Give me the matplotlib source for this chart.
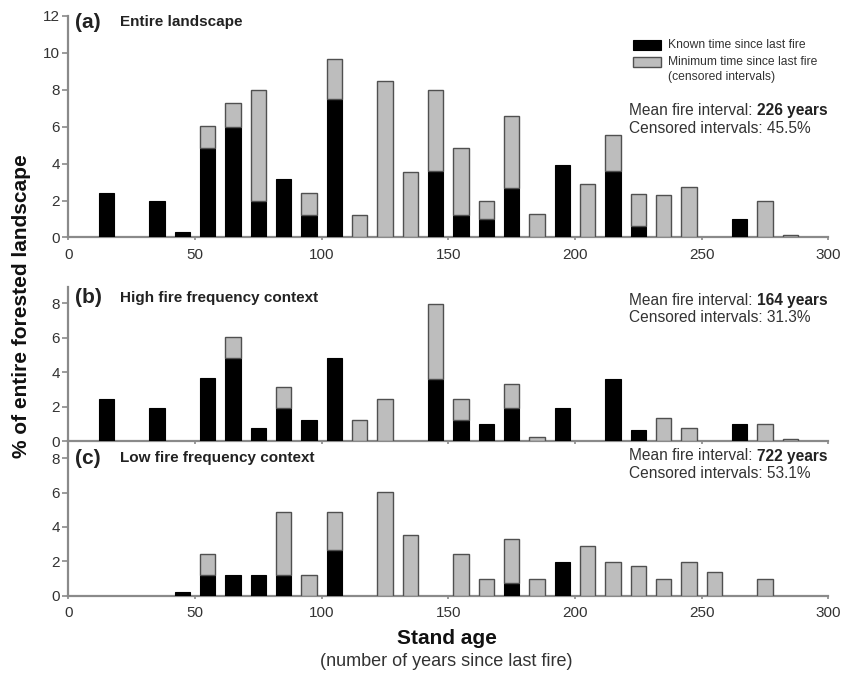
import matplotlib
matplotlib.use("Agg")
import matplotlib.pyplot as plt
from matplotlib.patches import Rectangle
import numpy as np

plt.rcParams['font.family'] = ['Liberation Sans', 'DejaVu Sans']

# ---- data ----
ages = [5, 15, 25, 35, 45, 55, 65, 75, 85, 95, 105, 115, 125, 135, 145,
        155, 165, 175, 185, 195, 205, 215, 225, 235, 245, 255, 265, 275, 285, 295]

known_a = [0, 2.42, 0, 1.95, 0.29, 4.83, 6.0, 1.95, 3.16, 1.21, 7.5, 0, 0, 0, 3.62,
           1.21, 0.98, 2.69, 0, 3.9, 0, 3.62, 0.63, 0, 0, 0, 0.99, 0, 0, 0]
censored_a = [0, 0, 0, 0, 0, 1.21, 1.25, 6.05, 0, 1.21, 2.17, 1.23, 8.48, 3.56, 4.38,
              3.65, 0.99, 3.89, 1.25, 0, 2.91, 1.93, 1.74, 2.31, 2.73, 0, 0, 1.95, 0.16, 0]

known_b = [0, 2.41, 0, 1.92, 0, 3.63, 4.8, 0.76, 1.92, 1.22, 4.83, 0, 0, 0, 3.59,
           1.2, 0.97, 1.92, 0, 1.92, 0, 3.59, 0.62, 0, 0, 0, 0.97, 0, 0, 0]
censored_b = [0, 0, 0, 0, 0, 0, 1.24, 0, 1.21, 0, 0, 1.22, 2.41, 0, 4.37,
              1.21, 0, 1.36, 0.23, 0, 0, 0, 0, 1.34, 0.76, 0, 0, 0.97, 0.12, 0]

known_c = [0, 0, 0, 0, 0.23, 1.2, 1.2, 1.2, 1.2, 0, 2.66, 0, 0, 0, 0,
           0, 0, 0.76, 0, 1.94, 0, 0, 0, 0, 0, 0, 0, 0, 0, 0]
censored_c = [0, 0, 0, 0, 0, 1.23, 0, 0, 3.65, 1.22, 2.19, 0, 6.06, 3.55, 0,
              2.43, 0.97, 2.54, 0.97, 0, 2.89, 1.94, 1.73, 0.97, 1.94, 1.36, 0, 0.97, 0, 0]

panel_letters = ["(a)", "(b)", "(c)"]
panel_titles = ["Entire landscape", "High fire frequency context", "Low fire frequency context"]
mean_intervals = ["226 years", "164 years", "722 years"]
censored_pct = ["45.5%", "31.3%", "53.1%"]
x_ticks = [0, 50, 100, 150, 200, 250, 300]
legend_labels = ["Known time since last fire", "Minimum time since last fire", "(censored intervals)"]

# ---- figure ----
W, H = 843, 676
fig = plt.figure(figsize=(W / 100, H / 100), dpi=100)

def fx(px):
    return px / W

def fy(py):
    return 1 - py / H

BLACK = "#000000"
GRAY = "#bdbdbd"
EDGE_G = "#505050"
SPINE = "#8a8a8a"
TXT = "#333333"

positions = [
    [0.081, 0.6487, 0.9016, 0.3281],
    [0.081, 0.3476, 0.9016, 0.2278],
    [0.081, 0.1188, 0.9016, 0.2288],
]
ylims = [12, 8.93, 9.0]
yticks = [np.arange(0, 13, 2), np.arange(0, 9, 2), np.arange(0, 9, 2)]
knowns = [known_a, known_b, known_c]
cens = [censored_a, censored_b, censored_c]

axes = []
for i in range(3):
    ax = fig.add_axes(positions[i])
    axes.append(ax)
    ages_arr = np.array(ages, dtype=float)
    k = np.array(knowns[i], dtype=float)
    c = np.array(cens[i], dtype=float)
    mk = k > 0
    ax.bar(ages_arr[mk], k[mk], width=6, color=BLACK, edgecolor=BLACK, linewidth=0.8, zorder=3)
    mc = c > 0
    ax.bar(ages_arr[mc], c[mc], bottom=k[mc], width=6, color=GRAY, edgecolor=EDGE_G,
           linewidth=1.0, zorder=3)
    ax.set_xlim(0, 300)
    ax.set_ylim(0, ylims[i])
    ax.set_yticks(yticks[i])
    ax.set_xticks(x_ticks)
    for s in ["top", "right"]:
        ax.spines[s].set_visible(False)
    for s in ["left", "bottom"]:
        ax.spines[s].set_color(SPINE)
        ax.spines[s].set_linewidth(1.6)
    ax.tick_params(axis="y", direction="out", length=4.5, width=1.2, color=SPINE,
                   labelsize=11, labelcolor=TXT, pad=1.5)
    ax.tick_params(axis="x", direction="out", length=2.5, width=1.2, color=SPINE,
                   labelsize=11, labelcolor=TXT, pad=5)
    if i == 1:
        ax.tick_params(axis="x", labelbottom=False)
    ax.patch.set_alpha(0)

renderer = fig.canvas.get_renderer()

# panel labels
label_y = [22, 297.7, 458.3]
for i in range(3):
    fig.text(fx(75), fy(label_y[i]), panel_letters[i], fontsize=15, fontweight="bold",
             color="#222222", va="center", ha="left")
    fig.text(fx(120), fy(label_y[i]), panel_titles[i], fontsize=11, fontweight="bold",
             color="#222222", va="center", ha="left")

# mean / censored text
mean_y = [(110.7, 128.3), (300, 317.3), (456, 473.3)]
for i in range(3):
    y1, y2 = mean_y[i]
    t = fig.text(fx(629), fy(y1), "Mean fire interval: ", fontsize=11.2, color=TXT,
                 va="center", ha="left")
    bb = t.get_window_extent(renderer=renderer)
    fig.text(bb.x1 / W, fy(y1), mean_intervals[i], fontsize=11.2, fontweight="bold",
             color="#222222", va="center", ha="left")
    fig.text(fx(629), fy(y2), "Censored intervals: " + censored_pct[i], fontsize=11.2,
             color=TXT, va="center", ha="left")

# legend
fig.patches.append(Rectangle((fx(633), fy(50)), 28 / W, 10 / H, transform=fig.transFigure,
                             facecolor=BLACK, edgecolor=BLACK, linewidth=0.8))
fig.patches.append(Rectangle((fx(633), fy(67)), 28 / W, 10 / H, transform=fig.transFigure,
                             facecolor=GRAY, edgecolor=EDGE_G, linewidth=1.0))
fig.text(fx(668), fy(45), legend_labels[0], fontsize=8.7, color=TXT, va="center", ha="left")
fig.text(fx(668), fy(62), legend_labels[1], fontsize=8.7, color=TXT, va="center", ha="left")
fig.text(fx(668), fy(77), legend_labels[2], fontsize=8.7, color=TXT, va="center", ha="left")

# axis titles
fig.text(fx(447), fy(638), "Stand age", fontsize=15, fontweight="bold", color="#111111",
         ha="center", va="center")
fig.text(fx(446), fy(662), "(number of years since last fire)", fontsize=13, color=TXT,
         ha="center", va="center")
fig.text(fx(21.5), fy(306.5), "% of entire forested landscape", fontsize=15, fontweight="bold",
         color="#111111", ha="center", va="center", rotation=90)

fig.savefig("out.png", dpi=100)
